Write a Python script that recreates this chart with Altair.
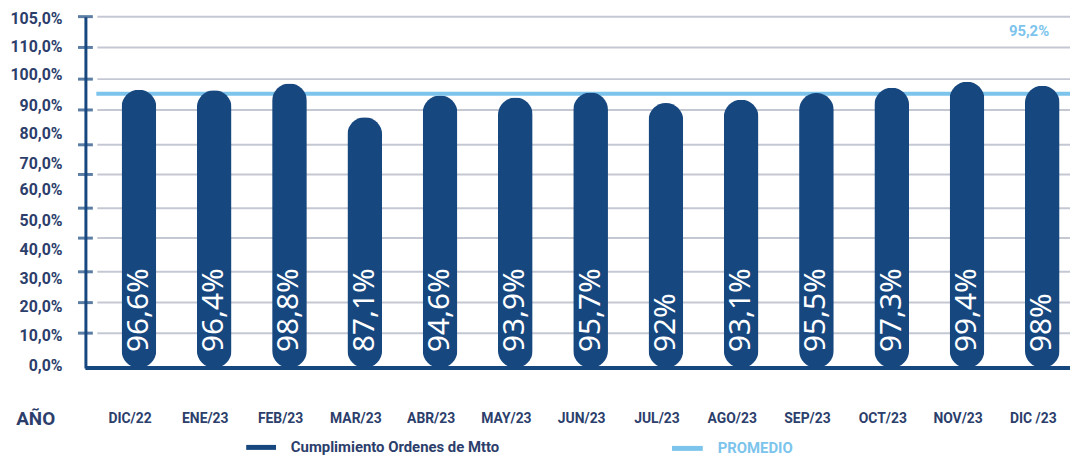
import altair as alt
import pandas as pd

# ---- data ----
meses = ["DIC/22", "ENE/23", "FEB/23", "MAR/23", "ABR/23", "MAY/23", "JUN/23",
         "JUL/23", "AGO/23", "SEP/23", "OCT/23", "NOV/23", "DIC /23"]
cumplimiento = [96.6, 96.4, 98.8, 87.1, 94.6, 93.9, 95.7, 92.0, 93.1, 95.5, 97.3, 99.4, 98.0]
promedio = 95.2

# axis tick values (where the gridlines sit) and the axis label texts
y_tick_vals = [122.0, 111.3, 100.3, 89.6, 77.5, 67.2, 55.5, 45.1, 33.4, 22.7, 12.1]
y_label_text = ["105,0%", "110,0%", "100,0%", "90,0%", "80,0%", "70,0%", "60,0%",
                "50,0%", "40,0%", "30,0%", "20,0%", "10,0%", "0,0%"]
y_label_vals = [121.3, 111.6, 101.6, 90.9, 81.1, 70.7, 61.7, 51.0, 41.0, 31.0, 21.0, 11.0, 0.7]

legend_names = ["Cumplimiento Ordenes de Mtto", "PROMEDIO"]
x_title = "AÑO"


def fmt(v):
    return f"{v:g}".replace(".", ",") + "%"


df = pd.DataFrame({"mes": meses, "valor": cumplimiento,
                   "etiqueta": [fmt(v) for v in cumplimiento]})
df_ticks = pd.DataFrame({"v": y_tick_vals})
df_labels = pd.DataFrame({"v": y_label_vals, "t": y_label_text})
df_avg = pd.DataFrame({"promedio": [promedio], "t": [fmt(promedio)]})
df_base = pd.DataFrame({"base": [0]})
df_leg1 = pd.DataFrame({"t": [legend_names[0]]})
df_leg2 = pd.DataFrame({"t": [legend_names[1]]})

DARK = "#17477f"
TEXT = "#2c3e6b"
LIGHT = "#7cc4ec"
GRID = "#c4c8d3"
FONT = "Roboto"

yscale = alt.Scale(domain=[0, 122], nice=False, zero=True)
xscale = alt.Scale(domain=meses, range=[16, 1002], paddingInner=0, paddingOuter=0)

yaxis = alt.Axis(labels=False, ticks=False, grid=False, domain=True,
                 domainColor=DARK, domainWidth=3, title=None)
xaxis = alt.Axis(title=x_title, labelAngle=0, labelFont=FONT, labelFontWeight="bold",
                 labelFontSize=14, labelColor=TEXT, labelPadding=44, labelOffset=-9,
                 ticks=False, grid=False, domain=False,
                 titleX=-31, titleY=51, titleAlign="right", titleBaseline="middle",
                 titleFont=FONT, titleFontSize=19, titleFontWeight="bold", titleColor=TEXT)

grid = alt.Chart(df_ticks).mark_rule(color=GRID, strokeWidth=2).encode(
    y=alt.Y("v:Q", scale=yscale, axis=yaxis),
    x=alt.value(12), x2=alt.value(992))

avg = alt.Chart(df_avg).mark_rule(color=LIGHT, strokeWidth=4).encode(
    y=alt.Y("promedio:Q", scale=yscale, axis=yaxis),
    x=alt.value(11), x2=alt.value(992))

ticks = alt.Chart(df_ticks).mark_tick(color=DARK, thickness=3, size=15,
                                      orient="horizontal").encode(
    y=alt.Y("v:Q", scale=yscale, axis=yaxis),
    x=alt.value(0))

bars = alt.Chart(df).mark_bar(color=DARK, size=35, cornerRadius=17.5).encode(
    x=alt.X("mes:N", scale=xscale, axis=xaxis),
    y=alt.Y("valor:Q", scale=yscale, axis=yaxis))

baseline = alt.Chart(df_base).mark_rule(color=DARK, strokeWidth=4).encode(
    y=alt.Y("base:Q", scale=yscale, axis=yaxis),
    x=alt.value(0), x2=alt.value(992))

bar_labels = alt.Chart(df).mark_text(angle=270, align="left", baseline="middle", dx=16,
                                     color="white", fontSize=30, font="Noto Sans").encode(
    x=alt.X("mes:N", scale=xscale, axis=xaxis),
    y=alt.datum(0),
    text="etiqueta:N")

y_labels = alt.Chart(df_labels).mark_text(align="right", baseline="middle", font=FONT,
                                          fontWeight="bold", fontSize=16, color=TEXT).encode(
    y=alt.Y("v:Q", scale=yscale, axis=yaxis),
    x=alt.value(-23),
    text="t:N")

avg_text = alt.Chart(df_avg).mark_text(align="right", baseline="middle", font=FONT,
                                       fontWeight="bold", fontSize=15, color=LIGHT).encode(
    x=alt.value(971), y=alt.value(15), text="t:N")

leg_sym1 = alt.Chart(df_leg1).mark_rule(color=DARK, strokeWidth=5).encode(
    x=alt.value(162), x2=alt.value(192), y=alt.value(434))
leg_txt1 = alt.Chart(df_leg1).mark_text(align="left", baseline="middle", font=FONT,
                                        fontWeight="bold", fontSize=15, color=TEXT).encode(
    x=alt.value(207), y=alt.value(434), text="t:N")
leg_sym2 = alt.Chart(df_leg2).mark_rule(color=LIGHT, strokeWidth=5).encode(
    x=alt.value(591), x2=alt.value(622), y=alt.value(435))
leg_txt2 = alt.Chart(df_leg2).mark_text(align="left", baseline="middle", font=FONT,
                                        fontWeight="bold", fontSize=15, color=LIGHT).encode(
    x=alt.value(637), y=alt.value(435), text="t:N")

chart = alt.layer(
    grid, avg, ticks, bars, baseline, bar_labels, y_labels, avg_text,
    leg_sym1, leg_txt1, leg_sym2, leg_txt2
).properties(
    width=992, height=354,
    padding={"left": 78, "top": 7, "right": 0, "bottom": 91},
    autosize=alt.AutoSizeParams(type="none"),
    background="white",
).configure_view(stroke=None)

chart.save("out.html", embed_options={"renderer": "svg", "actions": False})
